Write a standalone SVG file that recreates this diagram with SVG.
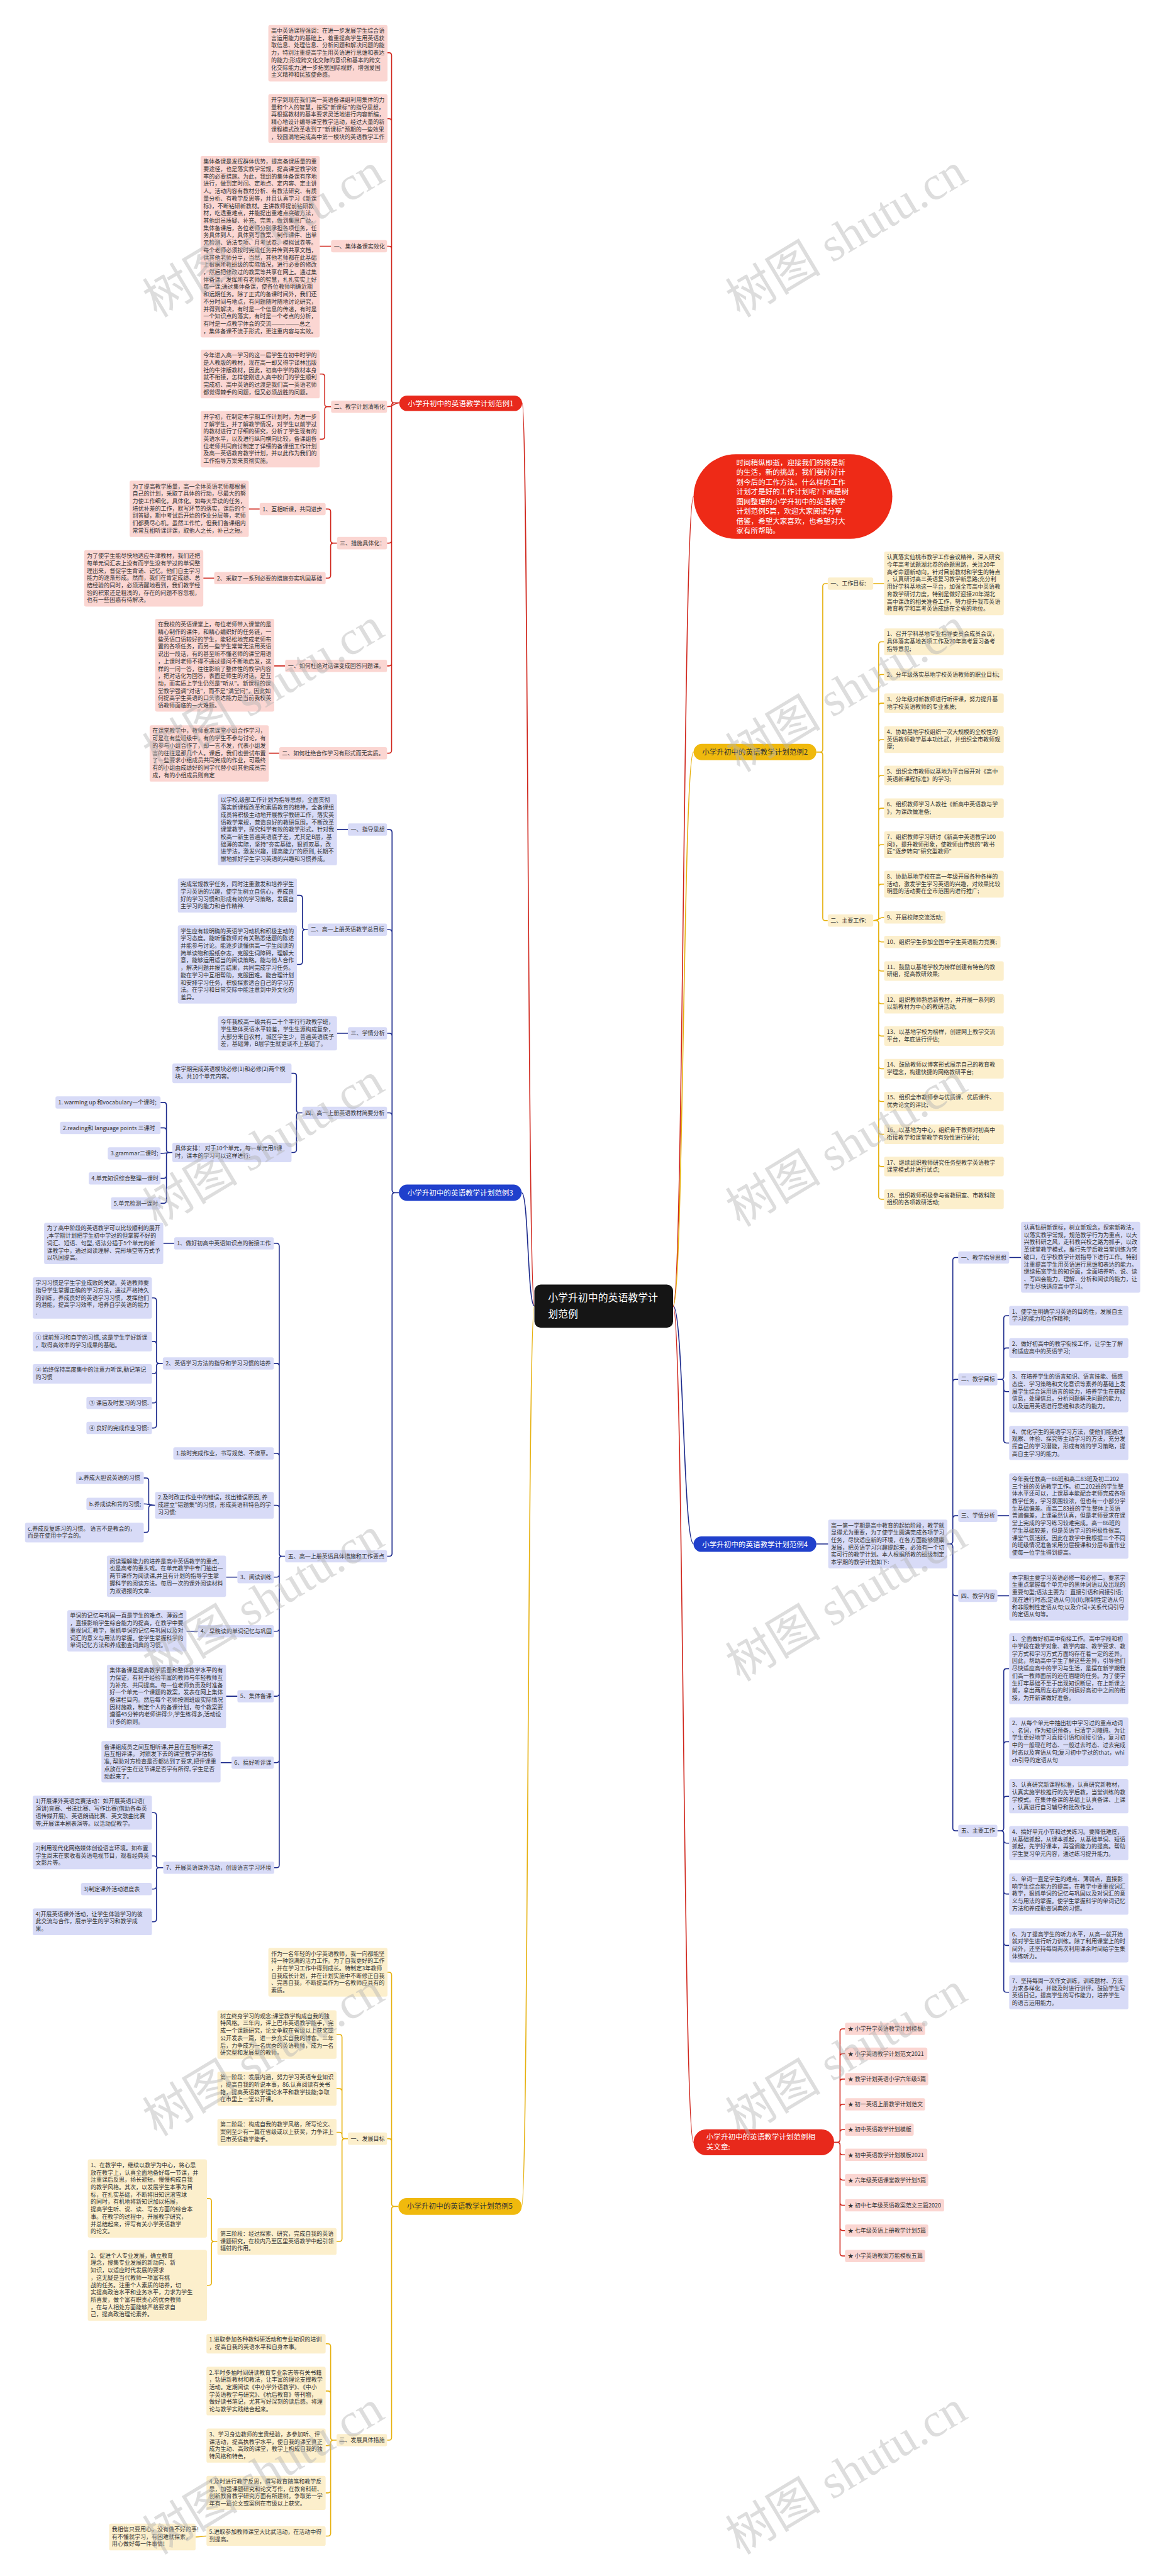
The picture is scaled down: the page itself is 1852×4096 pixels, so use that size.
<svg xmlns="http://www.w3.org/2000/svg" width="1852" height="4096" viewBox="0 0 1852 4096">
<style>
.t{font-family:"Noto Sans CJK SC","Liberation Sans",sans-serif;font-size:12.5px;fill:#333}
.nt{font-family:"Noto Sans CJK SC","Liberation Sans",sans-serif;font-size:16px}
.rb{fill:#fbd6d2}.yb{fill:#fcefcc}.bb{fill:#d8dbf7}
.rl,.yl,.bl{fill:none;stroke-width:2.2}
.rl{stroke:#d0261c}.yl{stroke:#e6b10f}.bl{stroke:#1c2a8c}
.wm{font-family:"Liberation Serif","Noto Sans CJK SC",serif;font-size:105px;fill:#b4b4b4;opacity:.45}
</style>
<rect width="1852" height="4096" fill="#fff"/>
<g transform="scale(0.723)">
<g id="connectors">
<path class="rl" d="M1175,2872C1160,2872 1162,886 1148,886"/>
<path class="bl" d="M1175,2872C1160,2872 1162,2623 1147,2623"/>
<path class="yl" d="M1175,2872C1160,2872 1162,4852.5 1147,4852.5"/>
<path class="rl" d="M1480,2872C1503,2872 1502,1092 1525,1092"/>
<path class="yl" d="M1480,2872C1503,2872 1502,1654 1525,1654"/>
<path class="bl" d="M1480,2872C1503,2872 1502,3395.5 1525,3395.5"/>
<path class="rl" d="M1480,2872C1503,2872 1502,4711.5 1525,4711.5"/>
<path class="rl" d="M878,886H867Q861,886 861,880V122Q861,116 855,116H851M878,886H867Q861,886 861,880V267Q861,261 855,261H851M878,886H867Q861,886 861,880V547.5Q861,541.5 855,541.5H851M878,886C866,886 866,894.5 851,894.5M878,886H867Q861,886 861,892V1188.5Q861,1194.5 855,1194.5H851M878,886H867Q861,886 861,892V1458.5Q861,1464.5 855,1464.5H851M878,886H867Q861,886 861,892V1650.5Q861,1656.5 855,1656.5H851"/>
<path class="rl" d="M728,541.5H703M728,894.5H720Q714,894.5 714,888.5V828.6Q714,822.6 708,822.6H703M728,894.5H720Q714,894.5 714,900.5V960Q714,966 708,966H703M741,1194.5H733Q727,1194.5 727,1188.5V1125.5Q727,1119.5 721,1119.5H716M741,1194.5H733Q727,1194.5 727,1200.5V1265.5Q727,1271.5 721,1271.5H716M571,1119.5H547M471,1271.5H447M627,1464.5H603M614,1656.5H591"/>
<path class="bl" d="M877,2623H868Q862,2623 862,2617V1830.5Q862,1824.5 856,1824.5H851M877,2623H868Q862,2623 862,2617V2050.5Q862,2044.5 856,2044.5H851M877,2623H868Q862,2623 862,2617V2278.5Q862,2272.5 856,2272.5H851M877,2623H868Q862,2623 862,2617V2453.5Q862,2447.5 856,2447.5H851M877,2623H868Q862,2623 862,2629V3416.5Q862,3422.5 856,3422.5H851"/>
<path class="bl" d="M765,1824.5H741M677,2044.5H671Q665,2044.5 665,2038.5V1975Q665,1969 659,1969H653M677,2044.5H671Q665,2044.5 665,2050.5V2115Q665,2121 659,2121H653M765,2272.5H741M665,2447.5H658Q652,2447.5 652,2441.5V2366.5Q652,2360.5 646,2360.5H640M665,2447.5H658Q652,2447.5 652,2453.5V2528.5Q652,2534.5 646,2534.5H640"/>
<path class="bl" d="M379,2534.5H372Q366,2534.5 366,2528.5V2430.5Q366,2424.5 360,2424.5H353M379,2534.5H372Q366,2534.5 366,2528.5V2486.5Q366,2480.5 360,2480.5H353M379,2534.5C366,2534.5 366,2536.5 353,2536.5M379,2534.5H372Q366,2534.5 366,2540.5V2585.5Q366,2591.5 360,2591.5H353M379,2534.5H372Q366,2534.5 366,2540.5V2640.5Q366,2646.5 360,2646.5H353"/>
<path class="bl" d="M627,3422.5H620Q614,3422.5 614,3416.5V2740.5Q614,2734.5 608,2734.5H602M627,3422.5H620Q614,3422.5 614,3416.5V3004.5Q614,2998.5 608,2998.5H602M627,3422.5H620Q614,3422.5 614,3416.5V3202.5Q614,3196.5 608,3196.5H602M627,3422.5H620Q614,3422.5 614,3416.5V3316.5Q614,3310.5 608,3310.5H602M627,3422.5H620Q614,3422.5 614,3428.5V3462.5Q614,3468.5 608,3468.5H602M627,3422.5H620Q614,3422.5 614,3428.5V3581.5Q614,3587.5 608,3587.5H602M627,3422.5H620Q614,3422.5 614,3428.5V3724.5Q614,3730.5 608,3730.5H602M627,3422.5H620Q614,3422.5 614,3428.5V3870.5Q614,3876.5 608,3876.5H602M627,3422.5H620Q614,3422.5 614,3428.5V4101.5Q614,4107.5 608,4107.5H602"/>
<path class="bl" d="M383,2734.5H359M358,2998.5H350Q344,2998.5 344,2992.5V2860.5Q344,2854.5 338,2854.5H334M358,2998.5H350Q344,2998.5 344,2992.5V2956Q344,2950 338,2950H334M358,2998.5H350Q344,2998.5 344,3004.5V3015Q344,3021 338,3021H334M358,2998.5H350Q344,2998.5 344,3004.5V3079.5Q344,3085.5 338,3085.5H334M358,2998.5H350Q344,2998.5 344,3004.5V3134.5Q344,3140.5 338,3140.5H334"/>
<path class="bl" d="M341,3310.5H333Q327,3310.5 327,3304.5V3256.5Q327,3250.5 321,3250.5H316M341,3310.5C328,3310.5 328,3307.5 316,3307.5M341,3310.5H333Q327,3310.5 327,3316.5V3364Q327,3370 321,3370H316M522,3468.5H497M435,3587.5H410M522,3730.5H497M509,3876.5H485"/>
<path class="bl" d="M359,4107.5H350Q344,4107.5 344,4101.5V3992.5Q344,3986.5 338,3986.5H334M359,4107.5H350Q344,4107.5 344,4101.5V4087.5Q344,4081.5 338,4081.5H334M359,4107.5H350Q344,4107.5 344,4113.5V4148.5Q344,4154.5 338,4154.5H334M359,4107.5H350Q344,4107.5 344,4113.5V4220.5Q344,4226.5 338,4226.5H334"/>
<path class="yl" d="M876,4852.5H867Q861,4852.5 861,4846.5V4343.5Q861,4337.5 855,4337.5H851M876,4852.5H867Q861,4852.5 861,4846.5V4709.5Q861,4703.5 855,4703.5H851M876,4852.5H867Q861,4852.5 861,4858.5V5360.5Q861,5366.5 855,5366.5H851"/>
<path class="yl" d="M765,4703.5H758Q752,4703.5 752,4697.5V4480.5Q752,4474.5 746,4474.5H740M765,4703.5H758Q752,4703.5 752,4697.5V4599.5Q752,4593.5 746,4593.5H740M765,4703.5H758Q752,4703.5 752,4697.5V4695.5Q752,4689.5 746,4689.5H740M765,4703.5H758Q752,4703.5 752,4709.5V4923.5Q752,4929.5 746,4929.5H740"/>
<path class="yl" d="M478,4929.5H471Q465,4929.5 465,4923.5V4841Q465,4835 459,4835H455M478,4929.5H471Q465,4929.5 465,4935.5V5020Q465,5026 459,5026H455"/>
<path class="yl" d="M740,5366.5H733Q727,5366.5 727,5360.5V5160.5Q727,5154.5 721,5154.5H716M740,5366.5H733Q727,5366.5 727,5360.5V5264.5Q727,5258.5 721,5258.5H716M740,5366.5H733Q727,5366.5 727,5372.5V5372.5Q727,5378.5 721,5378.5H716M740,5366.5H733Q727,5366.5 727,5372.5V5476.5Q727,5482.5 721,5482.5H716M740,5366.5H733Q727,5366.5 727,5372.5V5571.5Q727,5577.5 721,5577.5H716M454,5577.5C442,5577.5 442,5579.5 430,5579.5"/>
<path class="yl" d="M1795,1654H1803Q1809,1654 1809,1648V1289.5Q1809,1283.5 1815,1283.5H1820M1795,1654H1803Q1809,1654 1809,1660V2018.5Q1809,2024.5 1815,2024.5H1820M1920,1283.5H1944"/>
<path class="yl" d="M1920,2024.5H1926Q1932,2024.5 1932,2018.5V1417.5Q1932,1411.5 1938,1411.5H1944M1932,1489.5Q1932,1483.5 1938,1483.5H1944M1932,1552.5Q1932,1546.5 1938,1546.5H1944M1932,1632.5Q1932,1626.5 1938,1626.5H1944M1932,1711.5Q1932,1705.5 1938,1705.5H1944M1932,1783.5Q1932,1777.5 1938,1777.5H1944M1932,1863.5Q1932,1857.5 1938,1857.5H1944M1932,1950.5Q1932,1944.5 1938,1944.5H1944M1920,2024.5C1932,2024.5 1932,2017.5 1944,2017.5M1920,2024.5H1926Q1932,2024.5 1932,2030.5V2631.5Q1932,2637.5 1938,2637.5H1944M1932,2065.5Q1932,2071.5 1938,2071.5H1944M1932,2129.5Q1932,2135.5 1938,2135.5H1944M1932,2201.5Q1932,2207.5 1938,2207.5H1944M1932,2272.5Q1932,2278.5 1938,2278.5H1944M1932,2344.5Q1932,2350.5 1938,2350.5H1944M1932,2416.5Q1932,2422.5 1938,2422.5H1944M1932,2488.5Q1932,2494.5 1938,2494.5H1944M1932,2559.5Q1932,2565.5 1938,2565.5H1944"/>
<path class="bl" d="M1795,3395.5H1821M2083,3395.5H2089Q2095,3395.5 2095,3389.5V2771.5Q2095,2765.5 2101,2765.5H2107M2095,3039.5Q2095,3033.5 2101,3033.5H2107M2095,3339.5Q2095,3333.5 2101,3333.5H2107M2083,3395.5H2089Q2095,3395.5 2095,3401.5V4020.5Q2095,4026.5 2101,4026.5H2107M2095,3503.5Q2095,3509.5 2101,3509.5H2107"/>
<path class="bl" d="M2219,2765.5H2245M2193,3333.5H2219M2193,3509.5H2219M2193,3033.5H2201Q2207,3033.5 2207,3027.5V2899.5Q2207,2893.5 2213,2893.5H2219M2207,2970.5Q2207,2964.5 2213,2964.5H2219M2193,3033.5H2201Q2207,3033.5 2207,3039.5V3167.5Q2207,3173.5 2213,3173.5H2219M2207,3054.5Q2207,3060.5 2213,3060.5H2219"/>
<path class="bl" d="M2193,4026.5H2201Q2207,4026.5 2207,4020.5V3676Q2207,3670 2213,3670H2219M2207,3836.5Q2207,3830.5 2213,3830.5H2219M2207,3956.5Q2207,3950.5 2213,3950.5H2219M2193,4026.5H2201Q2207,4026.5 2207,4032.5V4375.5Q2207,4381.5 2213,4381.5H2219M2207,4047.5Q2207,4053.5 2213,4053.5H2219M2207,4159.5Q2207,4165.5 2213,4165.5H2219M2207,4272.5Q2207,4278.5 2213,4278.5H2219"/>
<path class="rl" d="M1834,4711.5H1841Q1847,4711.5 1847,4705.5V4468Q1847,4462 1853,4462H1858M1847,4522.5Q1847,4516.5 1853,4516.5H1858M1847,4578.5Q1847,4572.5 1853,4572.5H1858M1847,4634Q1847,4628 1853,4628H1858M1847,4689.5Q1847,4683.5 1853,4683.5H1858M1834,4711.5H1841Q1847,4711.5 1847,4717.5V4955.5Q1847,4961.5 1853,4961.5H1858M1847,4733Q1847,4739 1853,4739H1858M1847,4788.5Q1847,4794.5 1853,4794.5H1858M1847,4844Q1847,4850 1853,4850H1858M1847,4899.5Q1847,4905.5 1853,4905.5H1858"/>
</g>

<g id="center"><rect x="1175" y="2825" width="305" height="95" rx="14" fill="#151515"/><text class="nt" style="font-size:22px" fill="#fff" x="1205" y="2862">小学升初中的英语教学计<tspan x="1205" dy="36">划范例</tspan></text></g>

<g id="intro"><rect x="1525" y="999" width="437" height="186" rx="93" fill="#ee2a17"/><text class="nt" fill="#fff" x="1619" y="1023">时间稍纵即逝，迎接我们的将是新<tspan x="1619" dy="21.5">的生活，新的挑战，我们要好好计</tspan><tspan x="1619" dy="21.5">划今后的工作方法。什么样的工作</tspan><tspan x="1619" dy="21.5">计划才是好的工作计划呢?下面是树</tspan><tspan x="1619" dy="21.5">图网整理的小学升初中的英语教学</tspan><tspan x="1619" dy="21.5">计划范例5篇，欢迎大家阅读分享</tspan><tspan x="1619" dy="21.5">借鉴，希望大家喜欢，也希望对大</tspan><tspan x="1619" dy="21.5">家有所帮助。</tspan></text></g>

<g id="n1"><rect x="878" y="870" width="270" height="34" rx="17" fill="#e8291c"/><text class="nt" fill="#fff" text-anchor="middle" x="1013" y="893">小学升初中的英语教学计划范例1</text></g>
<g id="r1a"><rect class="rb" x="590" y="55" width="262" height="124" rx="4"/><text class="t" x="596" y="72">高中英语课程强调：在进一步发展学生综合语<tspan x="596" dy="16.2">言运用能力的基础上，着重提高学生用英语获</tspan><tspan x="596" dy="16.2">取信息、处理信息、分析问题和解决问题的能</tspan><tspan x="596" dy="16.2">力，特别注重提高学生用英语进行思维和表达</tspan><tspan x="596" dy="16.2">的能力;形成跨文化交际的意识和基本的跨文</tspan><tspan x="596" dy="16.2">化交际能力;进一步拓宽国际视野，增强爱国</tspan><tspan x="596" dy="16.2">主义精神和民族使命感。</tspan></text></g>
<g id="r1b"><rect class="rb" x="590" y="207" width="262" height="107" rx="4"/><text class="t" x="596" y="224">开学到现在我们高一英语备课组利用集体的力<tspan x="596" dy="16.2">量和个人的智慧，按照"新课标"的指导思想，</tspan><tspan x="596" dy="16.2">再根据教材的基本要求灵活地进行内容新编，</tspan><tspan x="596" dy="16.2">精心地设计编导课堂教学活动，经过大量的新</tspan><tspan x="596" dy="16.2">课程模式改革收到了"新课标"预期的一些效果</tspan><tspan x="596" dy="16.2">，较圆满地完成高中第一模块的英语教学工作</tspan></text></g>
<g id="r1c"><rect class="rb" x="728" y="528" width="123" height="27" rx="4"/><text class="t" x="734" y="546">一、集体备课实效化</text></g>
<g id="r1c1"><rect class="rb" x="441" y="343" width="262" height="399" rx="4"/><text class="t" x="447" y="360">集体备课是发挥群体优势，提高备课质量的重<tspan x="447" dy="16.2">要途径，也是落实教学常规，提高课堂教学效</tspan><tspan x="447" dy="16.2">率的必要措施。为此，我组的集体备课有序地</tspan><tspan x="447" dy="16.2">进行，做到定时间、定地点、定内容、定主讲</tspan><tspan x="447" dy="16.2">人。活动内容有教材分析、有教法研究、有质</tspan><tspan x="447" dy="16.2">量分析、有教学反思等，并且认真学习《新课</tspan><tspan x="447" dy="16.2">标》，不断钻研新教材。主讲教师提前钻研教</tspan><tspan x="447" dy="16.2">材，吃透重难点，并能提出重难点突破方法，</tspan><tspan x="447" dy="16.2">其他组员质疑、补充、完善，做到集思广益。</tspan><tspan x="447" dy="16.2">集体备课后，各位老师分别承担各项任务，任</tspan><tspan x="447" dy="16.2">务具体到人，具体到写教案、制作课件、出单</tspan><tspan x="447" dy="16.2">元检测、语法专项、月考试卷、模拟试卷等。</tspan><tspan x="447" dy="16.2">每个老师必须按时完成任务并传到共享文档，</tspan><tspan x="447" dy="16.2">供其他老师分享，当然，其他老师都在此基础</tspan><tspan x="447" dy="16.2">上根据所教班级的实际情况，进行必要的修改</tspan><tspan x="447" dy="16.2">，然后把修改过的教案等共享在网上。通过集</tspan><tspan x="447" dy="16.2">体备课，发挥所有老师的智慧，扎扎实实上好</tspan><tspan x="447" dy="16.2">每一课;通过集体备课，使各位教师明确近期</tspan><tspan x="447" dy="16.2">和远期任务。除了正式的备课时间外，我们还</tspan><tspan x="447" dy="16.2">不分时间与地点，有问题随时随地讨论研究，</tspan><tspan x="447" dy="16.2">并得到解决，有时是一个信息的传递，有时是</tspan><tspan x="447" dy="16.2">一个知识点的落实，有时是一个考点的分析，</tspan><tspan x="447" dy="16.2">有时是一点教学体会的交流——————总之</tspan><tspan x="447" dy="16.2">，集体备课不流于形式，更注重内容与实效。</tspan></text></g>
<g id="r1d"><rect class="rb" x="728" y="881" width="123" height="27" rx="4"/><text class="t" x="734" y="899">二、教学计划清晰化</text></g>
<g id="r1d1"><rect class="rb" x="441" y="769" width="262" height="107" rx="4"/><text class="t" x="447" y="786">今年进入高一学习的这一届学生在初中时学的<tspan x="447" dy="16.2">是人教版的教材，现在高一却又得学译林出版</tspan><tspan x="447" dy="16.2">社的牛津版教材，因此，初高中学的教材本身</tspan><tspan x="447" dy="16.2">就不衔接，怎样使刚进入高中校门的学生顺利</tspan><tspan x="447" dy="16.2">完成初、高中英语的过渡是我们高一英语老师</tspan><tspan x="447" dy="16.2">都觉得棘手的问题，但又必须战胜的问题。</tspan></text></g>
<g id="r1d2"><rect class="rb" x="441" y="904" width="262" height="124" rx="4"/><text class="t" x="447" y="921">开学初，在制定本学期工作计划时，为进一步<tspan x="447" dy="16.2">了解学生，并了解教学情况，对学生以前学过</tspan><tspan x="447" dy="16.2">的教材进行了仔细的研究，分析了学生现有的</tspan><tspan x="447" dy="16.2">英语水平，以及进行纵向横向比较，备课组各</tspan><tspan x="447" dy="16.2">位老师共同商讨制定了详细的备课组工作计划</tspan><tspan x="447" dy="16.2">及高一英语教育教学计划，并以此作为我们的</tspan><tspan x="447" dy="16.2">工作指导方案来贯彻实施。</tspan></text></g>
<g id="r1e"><rect class="rb" x="741" y="1181" width="110" height="27" rx="4"/><text class="t" x="747" y="1199">三、措施具体化：</text></g>
<g id="r1e1"><rect class="rb" x="571" y="1106" width="145" height="27" rx="4"/><text class="t" x="577" y="1124">1、互相听课，共同进步</text></g>
<g id="r1e1a"><rect class="rb" x="285" y="1057" width="262" height="124" rx="4"/><text class="t" x="291" y="1074">为了提高教学质量，高一全体英语老师都根据<tspan x="291" dy="16.2">自己的计划，采取了具体的行动，尽最大的努</tspan><tspan x="291" dy="16.2">力使工作细化，具体化。如每天早读的任务，</tspan><tspan x="291" dy="16.2">培优补差的工作，默写环节的落实，课后的个</tspan><tspan x="291" dy="16.2">别答疑，期中考试后开始的作业分层等，老师</tspan><tspan x="291" dy="16.2">们都费尽心机。虽然工作忙，但我们备课组内</tspan><tspan x="291" dy="16.2">常常互相听课评课，取他人之长，补己之短。</tspan></text></g>
<g id="r1e2"><rect class="rb" x="471" y="1258" width="245" height="27" rx="4"/><text class="t" x="477" y="1276">2、采取了一系列必要的措施夯实巩固基础</text></g>
<g id="r1e2a"><rect class="rb" x="185" y="1210" width="262" height="124" rx="4"/><text class="t" x="191" y="1227">为了使学生能尽快地适应牛津教材，我们还把<tspan x="191" dy="16.2">每单元词汇表上没有而学生没有学过的单词整</tspan><tspan x="191" dy="16.2">理出来，督促学生背诵、记忆。他们自主学习</tspan><tspan x="191" dy="16.2">能力的逐渐形成。然而，我们在肯定成绩、总</tspan><tspan x="191" dy="16.2">结经验的同时，必须清醒地看到，我们教学经</tspan><tspan x="191" dy="16.2">验的积累还是粗浅的，存在的问题不容忽视，</tspan><tspan x="191" dy="16.2">也有一些困惑有待解决。</tspan></text></g>
<g id="r1f"><rect class="rb" x="627" y="1451" width="224" height="27" rx="4"/><text class="t" x="633" y="1469">一、如何杜绝对话课变成回答问题课。</text></g>
<g id="r1f1"><rect class="rb" x="341" y="1361" width="262" height="204" rx="4"/><text class="t" x="347" y="1378">在我校的英语课堂上，每位老师带入课堂的是<tspan x="347" dy="16.2">精心制作的课件，和精心编织好的任务链，一</tspan><tspan x="347" dy="16.2">些英语口语较好的学生，能轻松地完成老师布</tspan><tspan x="347" dy="16.2">置的各项任务，而另一些学生常常无法用英语</tspan><tspan x="347" dy="16.2">说出一段话，有的甚至听不懂老师的课堂用语</tspan><tspan x="347" dy="16.2">，上课时老师不得不通过提问不断地启发，这</tspan><tspan x="347" dy="16.2">样的一问一答，往往影响了整体性的教学内容</tspan><tspan x="347" dy="16.2">，把对话化为回答，表面是师生的对话，是互</tspan><tspan x="347" dy="16.2">动，而实质上学生仍然是"听从"。新课程的课</tspan><tspan x="347" dy="16.2">堂教学强调"对话"，而不是"满堂问"，因此如</tspan><tspan x="347" dy="16.2">何提高学生英语的口头表达能力是当前我校英</tspan><tspan x="347" dy="16.2">语教师面临的一大难题。</tspan></text></g>
<g id="r1g"><rect class="rb" x="614" y="1643" width="237" height="27" rx="4"/><text class="t" x="620" y="1661">二、如何杜绝合作学习有形式而无实质。</text></g>
<g id="r1g1"><rect class="rb" x="329" y="1595" width="262" height="124" rx="4"/><text class="t" x="335" y="1612">在课堂教学中，教师要求课堂小组合作学习，<tspan x="335" dy="16.2">可是在有些班级中，有的学生不参与讨论，有</tspan><tspan x="335" dy="16.2">的参与小组合作了，却一言不发，代表小组发</tspan><tspan x="335" dy="16.2">言的往往是那几个人。课后，我们也尝试布置</tspan><tspan x="335" dy="16.2">了一些要求小组成员共同完成的作业，可最终</tspan><tspan x="335" dy="16.2">有的小组由成绩好的同学代替小组其他成员完</tspan><tspan x="335" dy="16.2">成，有的小组成员则商定</tspan></text></g>

<g id="n3"><rect x="877" y="2605" width="270" height="36" rx="18" fill="#2040cc"/><text class="nt" fill="#fff" text-anchor="middle" x="1012" y="2629">小学升初中的英语教学计划范例3</text></g>
<g id="b3a"><rect class="bb" x="765" y="1811" width="86" height="27" rx="4"/><text class="t" x="771" y="1829">一、指导思想</text></g>
<g id="b3a1"><rect class="bb" x="479" y="1747" width="262" height="156" rx="4"/><text class="t" x="485" y="1764">以学校,级部工作计划为指导思想，全面贯彻<tspan x="485" dy="16.2">落实新课程改革和素质教育的精神，全备课组</tspan><tspan x="485" dy="16.2">成员将积极主动地开展教学教研工作，落实英</tspan><tspan x="485" dy="16.2">语教学常规，营造良好的教研氛围，不断改革</tspan><tspan x="485" dy="16.2">课堂教学，探究科学有效的教学形式。针对我</tspan><tspan x="485" dy="16.2">校高一新生普遍英语底子差，尤其是B层，基</tspan><tspan x="485" dy="16.2">础薄的实际，坚持"夯实基础，狠抓双基，改</tspan><tspan x="485" dy="16.2">进学法，激发兴趣，提高能力"的原则, 长期不</tspan><tspan x="485" dy="16.2">懈地抓好学生学习英语的兴趣和习惯养成。</tspan></text></g>
<g id="b3b"><rect class="bb" x="677" y="2031" width="174" height="27" rx="4"/><text class="t" x="683" y="2049">二、高一上册英语教学总目标</text></g>
<g id="b3b1"><rect class="bb" x="391" y="1932" width="262" height="75" rx="4"/><text class="t" x="397" y="1949">完成常规教学任务，同时注重激发和培养学生<tspan x="397" dy="16.2">学习英语的兴趣，使学生树立自信心，养成良</tspan><tspan x="397" dy="16.2">好的学习习惯和形成有效的学习策略，发展自</tspan><tspan x="397" dy="16.2">主学习的能力和合作精神.</tspan></text></g>
<g id="b3b2"><rect class="bb" x="391" y="2035" width="262" height="172" rx="4"/><text class="t" x="397" y="2052">学生应有较明确的英语学习动机和积极主动的<tspan x="397" dy="16.2">学习态度。能听懂教师对有关熟悉话题的陈述</tspan><tspan x="397" dy="16.2">并能参与讨论。能逐步读懂供高一学生阅读的</tspan><tspan x="397" dy="16.2">简单读物和报纸杂志，克服生词障碍，理解大</tspan><tspan x="397" dy="16.2">意，能够运用适当的阅读策略。能与他人合作</tspan><tspan x="397" dy="16.2">，解决问题并报告结果，共同完成学习任务。</tspan><tspan x="397" dy="16.2">能在学习中互相帮助，克服困难。能合理计划</tspan><tspan x="397" dy="16.2">和安排学习任务，积极探索适合自己的学习方</tspan><tspan x="397" dy="16.2">法。在学习和日常交际中能注意到中外文化的</tspan><tspan x="397" dy="16.2">差异。</tspan></text></g>
<g id="b3c"><rect class="bb" x="765" y="2259" width="86" height="27" rx="4"/><text class="t" x="771" y="2277">三、学情分析</text></g>
<g id="b3c1"><rect class="bb" x="479" y="2235" width="262" height="75" rx="4"/><text class="t" x="485" y="2252">今年我校高一级共有二十个平行行政教学班，<tspan x="485" dy="16.2">学生整体英语水平较差，学生生源构成复杂，</tspan><tspan x="485" dy="16.2">大部分来自农村，城区学生少，普遍英语底子</tspan><tspan x="485" dy="16.2">差，基础薄，B层学生就更谈不上基础了。</tspan></text></g>
<g id="b3d"><rect class="bb" x="665" y="2434" width="186" height="27" rx="4"/><text class="t" x="671" y="2452">四、高一上册英语教材简要分析</text></g>
<g id="b3d1"><rect class="bb" x="379" y="2339" width="262" height="43" rx="4"/><text class="t" x="385" y="2356">本学期完成英语模块必修(1)和必修(2)两个模<tspan x="385" dy="16.2">块。共10个单元内容。</tspan></text></g>
<g id="b3d2"><rect class="bb" x="379" y="2513" width="262" height="43" rx="4"/><text class="t" x="385" y="2530">具体安排：  对于10个单元，每一单元用8课<tspan x="385" dy="16.2">时，课本的学习可以这样进行:</tspan></text></g>
<g id="b3d2a"><rect class="bb" x="122" y="2411" width="231" height="27" rx="4"/><text class="t" x="128" y="2429">1. warming up 和vocabulary一个课时;</text></g>
<g id="b3d2b"><rect class="bb" x="132" y="2467" width="221" height="27" rx="4"/><text class="t" x="138" y="2485">2.reading和 language points 三课时</text></g>
<g id="b3d2c"><rect class="bb" x="237" y="2523" width="116" height="27" rx="4"/><text class="t" x="243" y="2541">3.grammar二课时;</text></g>
<g id="b3d2d"><rect class="bb" x="195" y="2578" width="158" height="27" rx="4"/><text class="t" x="201" y="2596">4.单元知识综合整理一课时</text></g>
<g id="b3d2e"><rect class="bb" x="244" y="2633" width="109" height="27" rx="4"/><text class="t" x="250" y="2651">5.单元检测一课时</text></g>
<g id="b3e"><rect class="bb" x="627" y="3409" width="224" height="27" rx="4"/><text class="t" x="633" y="3427">五、高一上册英语具体措施和工作要点</text></g>
<g id="b3e1"><rect class="bb" x="383" y="2721" width="219" height="27" rx="4"/><text class="t" x="389" y="2739">1、做好初高中英语知识点的衔接工作</text></g>
<g id="b3e1a"><rect class="bb" x="97" y="2689" width="262" height="91" rx="4"/><text class="t" x="103" y="2706">为了高中阶段的英语教学可以比较顺利的展开<tspan x="103" dy="16.2">,本学期计划把学生初中学过的但掌握不好的</tspan><tspan x="103" dy="16.2">词汇、短语、句型, 语法分插于5个单元的新</tspan><tspan x="103" dy="16.2">课教学中，通过阅读理解、完形填空等方式予</tspan><tspan x="103" dy="16.2">以巩固提高。</tspan></text></g>
<g id="b3e2"><rect class="bb" x="358" y="2985" width="244" height="27" rx="4"/><text class="t" x="364" y="3003">2、英语学习方法的指导和学习习惯的培养</text></g>
<g id="b3e2a"><rect class="bb" x="72" y="2809" width="262" height="91" rx="4"/><text class="t" x="78" y="2826">学习习惯是学生学业成败的关键。英语教师要<tspan x="78" dy="16.2">指导学生掌握正确的学习方法，通过严格持久</tspan><tspan x="78" dy="16.2">的训练，养成良好的英语学习习惯，发挥他们</tspan><tspan x="78" dy="16.2">的潜能，提高学习效率，培养自学英语的能力</tspan><tspan x="78" dy="16.2">.</tspan></text></g>
<g id="b3e2b"><rect class="bb" x="72" y="2929" width="262" height="43" rx="4"/><text class="t" x="78" y="2946">① 课前预习和自学的习惯, 这是学生学好新课<tspan x="78" dy="16.2">，取得高效率的学习成果的基础。</tspan></text></g>
<g id="b3e2c"><rect class="bb" x="72" y="3000" width="262" height="43" rx="4"/><text class="t" x="78" y="3017">② 始终保持高度集中的注意力听课,勤记笔记<tspan x="78" dy="16.2">的习惯</tspan></text></g>
<g id="b3e2d"><rect class="bb" x="190" y="3072" width="144" height="27" rx="4"/><text class="t" x="196" y="3090">③ 课后及时复习的习惯.</text></g>
<g id="b3e2e"><rect class="bb" x="190" y="3127" width="144" height="27" rx="4"/><text class="t" x="196" y="3145">④ 良好的完成作业习惯:</text></g>
<g id="b3e3"><rect class="bb" x="381" y="3183" width="221" height="27" rx="4"/><text class="t" x="387" y="3201">1.按时完成作业，书写规范、不潦草。</text></g>
<g id="b3e4"><rect class="bb" x="341" y="3281" width="261" height="59" rx="4"/><text class="t" x="347" y="3298">2.及时改正作业中的错误，找出错误原因, 养<tspan x="347" dy="16.2">成建立"错题集"的习惯，形成英语科特色的学</tspan><tspan x="347" dy="16.2">习习惯:</tspan></text></g>
<g id="b3e4a"><rect class="bb" x="167" y="3237" width="149" height="27" rx="4"/><text class="t" x="173" y="3255">a.养成大胆说英语的习惯</text></g>
<g id="b3e4b"><rect class="bb" x="190" y="3294" width="126" height="27" rx="4"/><text class="t" x="196" y="3312">b.养成读和背的习惯;</text></g>
<g id="b3e4c"><rect class="bb" x="55" y="3349" width="261" height="43" rx="4"/><text class="t" x="61" y="3366">c.养成反复练习的习惯。 语言不是教会的，<tspan x="61" dy="16.2">而是在使用中学会的。</tspan></text></g>
<g id="b3e5"><rect class="bb" x="522" y="3455" width="80" height="27" rx="4"/><text class="t" x="528" y="3473">3、阅读训练</text></g>
<g id="b3e5a"><rect class="bb" x="235" y="3421" width="262" height="91" rx="4"/><text class="t" x="241" y="3438">阅读理解能力的培养是高中英语教学的重点,<tspan x="241" dy="16.2">也是高考的重头戏。在单元教学中专门抽出一</tspan><tspan x="241" dy="16.2">两节课作为阅读课,并且有计划的指导学生掌</tspan><tspan x="241" dy="16.2">握科学的阅读方法。每周一次的课外阅读材料</tspan><tspan x="241" dy="16.2">为双语报的文章.</tspan></text></g>
<g id="b3e6"><rect class="bb" x="435" y="3574" width="167" height="27" rx="4"/><text class="t" x="441" y="3592">4、早晚读的单词记忆与巩固</text></g>
<g id="b3e6a"><rect class="bb" x="148" y="3541" width="262" height="91" rx="4"/><text class="t" x="154" y="3558">单词的记忆与巩固一直是学生的难点、薄弱点<tspan x="154" dy="16.2">，直接影响学生综合能力的提高，在教学中要</tspan><tspan x="154" dy="16.2">重视词汇教学，狠抓单词的记忆与巩固以及对</tspan><tspan x="154" dy="16.2">词汇的意义与用法的掌握。使学生掌握科学的</tspan><tspan x="154" dy="16.2">单词记忆方法和养成勤查词典的习惯。</tspan></text></g>
<g id="b3e7"><rect class="bb" x="522" y="3717" width="80" height="27" rx="4"/><text class="t" x="528" y="3735">5、集体备课</text></g>
<g id="b3e7a"><rect class="bb" x="235" y="3661" width="262" height="140" rx="4"/><text class="t" x="241" y="3678">集体备课是提高教学质量和整体教学水平的有<tspan x="241" dy="16.2">力保证，有利于经验丰富的教师与年轻教师互</tspan><tspan x="241" dy="16.2">为补充、共同提高。每一位老师负责及时准备</tspan><tspan x="241" dy="16.2">好一个单元一个课题的教案，发表在网上集体</tspan><tspan x="241" dy="16.2">备课栏目内。然后每个老师按照班级实际情况</tspan><tspan x="241" dy="16.2">因材施教，制定个人的备课计划，每个教案要</tspan><tspan x="241" dy="16.2">遵循45分钟内老师讲得少,学生练得多,活动设</tspan><tspan x="241" dy="16.2">计多的原则。</tspan></text></g>
<g id="b3e8"><rect class="bb" x="509" y="3863" width="93" height="27" rx="4"/><text class="t" x="515" y="3881">6、搞好听评课</text></g>
<g id="b3e8a"><rect class="bb" x="223" y="3829" width="262" height="91" rx="4"/><text class="t" x="229" y="3846">备课组成员之间互相听课,并且在互相听课之<tspan x="229" dy="16.2">后互相评课。 对照发下去的课堂教学评估标</tspan><tspan x="229" dy="16.2">准, 帮助对方检查是否都达到了要求,把评课重</tspan><tspan x="229" dy="16.2">点放在学生在这节课是否学有所得, 学生是否</tspan><tspan x="229" dy="16.2">动起来了。</tspan></text></g>
<g id="b3e9"><rect class="bb" x="359" y="4094" width="244" height="27" rx="4"/><text class="t" x="365" y="4112">7、开展英语课外活动，创设语言学习环境</text></g>
<g id="b3e9a"><rect class="bb" x="72" y="3949" width="262" height="75" rx="4"/><text class="t" x="78" y="3966">1)开展课外英语竞赛活动：如开展英语口语(<tspan x="78" dy="16.2">演讲)竞赛、书法比赛、写作比赛(借助各类英</tspan><tspan x="78" dy="16.2">语传媒开展)、英语朗诵比赛、英文歌曲比赛</tspan><tspan x="78" dy="16.2">等;开展课本剧表演等。以活动促教学。</tspan></text></g>
<g id="b3e9b"><rect class="bb" x="72" y="4052" width="262" height="59" rx="4"/><text class="t" x="78" y="4069">2)利用现代化网络媒体创设语言环境。如布置<tspan x="78" dy="16.2">学生周末在家收看英语电视节目，观看经典英</tspan><tspan x="78" dy="16.2">文影片等。</tspan></text></g>
<g id="b3e9c"><rect class="bb" x="178" y="4141" width="156" height="27" rx="4"/><text class="t" x="184" y="4159">3)制定课外活动进度表</text></g>
<g id="b3e9d"><rect class="bb" x="72" y="4197" width="262" height="59" rx="4"/><text class="t" x="78" y="4214">4)开展英语课外活动，让学生体验学习的彼<tspan x="78" dy="16.2">此交流与合作，展示学生的学习和教学成</tspan><tspan x="78" dy="16.2">果。</tspan></text></g>

<g id="n5"><rect x="876" y="4834" width="271" height="37" rx="18" fill="#f0b90d"/><text class="nt" fill="#333" text-anchor="middle" x="1011" y="4858">小学升初中的英语教学计划范例5</text></g>
<g id="y5a"><rect class="yb" x="590" y="4284" width="262" height="107" rx="4"/><text class="t" x="596" y="4301">作为一名年轻的小学英语教师，我一向都能坚<tspan x="596" dy="16.2">持一种饱满的活力工作。为了自我更好的工作</tspan><tspan x="596" dy="16.2">，并在学习工作中得到成长。特制定3年教师</tspan><tspan x="596" dy="16.2">自我成长计划，并在计划实施中不断修正自我</tspan><tspan x="596" dy="16.2">、完善自我，不断提高作为一名教师应具有的</tspan><tspan x="596" dy="16.2">素质。</tspan></text></g>
<g id="y5b"><rect class="yb" x="765" y="4690" width="86" height="27" rx="4"/><text class="t" x="771" y="4708">一、发展目标</text></g>
<g id="y5b1"><rect class="yb" x="478" y="4421" width="262" height="107" rx="4"/><text class="t" x="484" y="4438">树立终身学习的观念;课堂教学构成自我的独<tspan x="484" dy="16.2">特风格。三年内，评上巴市英语教学能手，完</tspan><tspan x="484" dy="16.2">成一个课题研究，论文争取在省级以上获奖或</tspan><tspan x="484" dy="16.2">公开发表一篇，进一步充实自我的博客。三年</tspan><tspan x="484" dy="16.2">后，力争成为一名优秀的英语教师，成为一名</tspan><tspan x="484" dy="16.2">研究型和发展型的教师。</tspan></text></g>
<g id="y5b2"><rect class="yb" x="478" y="4556" width="262" height="75" rx="4"/><text class="t" x="484" y="4573">第一阶段：发展内涵，努力学习英语专业知识<tspan x="484" dy="16.2">，提高自我的听说本事，86.认真阅读有关书</tspan><tspan x="484" dy="16.2">籍，提高英语教学理论水平和教学技能;争取</tspan><tspan x="484" dy="16.2">在市里上一堂公开课。</tspan></text></g>
<g id="y5b3"><rect class="yb" x="478" y="4660" width="262" height="59" rx="4"/><text class="t" x="484" y="4677">第二阶段：构成自我的教学风格，所写论文、<tspan x="484" dy="16.2">案例至少有一篇在省级或以上获奖，力争评上</tspan><tspan x="484" dy="16.2">巴市英语教学能手。</tspan></text></g>
<g id="y5b4"><rect class="yb" x="478" y="4900" width="262" height="59" rx="4"/><text class="t" x="484" y="4917">第三阶段：经过探索、研究，完成自我的英语<tspan x="484" dy="16.2">课题研究，在校内乃至区里英语教学中起引领</tspan><tspan x="484" dy="16.2">辐射的作用。</tspan></text></g>
<g id="y5b4a"><rect class="yb" x="193" y="4749" width="262" height="172" rx="4"/><text class="t" x="199" y="4766">1、在教学中，继续以教学为中心，将心思<tspan x="199" dy="16.2">放在教学上，认真全面地备好每一节课，并</tspan><tspan x="199" dy="16.2">注重课后反思，扬长避短。慢慢构成自我</tspan><tspan x="199" dy="16.2">的教学风格。其次，以发展学生本事为目</tspan><tspan x="199" dy="16.2">标，在扎实基础，不断将旧知识滚雪球</tspan><tspan x="199" dy="16.2">的同时，有机地将新知识加以拓展，</tspan><tspan x="199" dy="16.2">提高学生听、说、读、写各方面的综合本</tspan><tspan x="199" dy="16.2">事。在教学的过程中，开展教学研究，</tspan><tspan x="199" dy="16.2">并总结起来，评写有关小学英语教学</tspan><tspan x="199" dy="16.2">的论文。</tspan></text></g>
<g id="y5b4b"><rect class="yb" x="193" y="4948" width="262" height="156" rx="4"/><text class="t" x="199" y="4965">2、促进个人专业发展，确立教育<tspan x="199" dy="16.2">理念，搜集专业发展的新动向、新</tspan><tspan x="199" dy="16.2">知识，以适应时代发展的要求</tspan><tspan x="199" dy="16.2">，这无疑是当代教师一项富有挑</tspan><tspan x="199" dy="16.2">战的任务。注重个人素质的培养，切</tspan><tspan x="199" dy="16.2">实提高政治水平和业务水平，力求为学生</tspan><tspan x="199" dy="16.2">所喜爱，做个富有职责心的优秀教师</tspan><tspan x="199" dy="16.2">，在与人相处方面能够严格要求自</tspan><tspan x="199" dy="16.2">己，提高政治理论素养。</tspan></text></g>
<g id="y5c"><rect class="yb" x="740" y="5353" width="111" height="27" rx="4"/><text class="t" x="746" y="5371">二、发展具体措施</text></g>
<g id="y5c1"><rect class="yb" x="454" y="5133" width="262" height="43" rx="4"/><text class="t" x="460" y="5150">1.进取参加各种教科研活动和专业知识的培训<tspan x="460" dy="16.2">，提高自我的英语水平和自身本事。</tspan></text></g>
<g id="y5c2"><rect class="yb" x="454" y="5205" width="262" height="107" rx="4"/><text class="t" x="460" y="5222">2.平时多抽时间研读教育专业杂志等有关书籍<tspan x="460" dy="16.2">，钻研新教材和教法，让丰富的理论支撑教学</tspan><tspan x="460" dy="16.2">活动。定期阅读《中小学外语教学》、《中小</tspan><tspan x="460" dy="16.2">学英语教学与研究》、《杭后教育》等刊物，</tspan><tspan x="460" dy="16.2">做好读书笔记，尤其写好深刻的读后感。将理</tspan><tspan x="460" dy="16.2">论与教学实践结合起来。</tspan></text></g>
<g id="y5c3"><rect class="yb" x="454" y="5341" width="262" height="75" rx="4"/><text class="t" x="460" y="5358">3、学习身边教师的宝贵经验，多参加听、评<tspan x="460" dy="16.2">课活动，提高执教学水平，使自我的课堂真正</tspan><tspan x="460" dy="16.2">成为生动、高效的课堂，教学上构成自我的独</tspan><tspan x="460" dy="16.2">特风格和特色，</tspan></text></g>
<g id="y5c4"><rect class="yb" x="454" y="5445" width="262" height="75" rx="4"/><text class="t" x="460" y="5462">4.及时进行教学反思，撰写教育随笔和教学反<tspan x="460" dy="16.2">思，加强课题研究和论文写作，在教育科研、</tspan><tspan x="460" dy="16.2">创新教育教学研究方面有所建树。争取第一学</tspan><tspan x="460" dy="16.2">年有一篇论文或案例在市级以上获奖。</tspan></text></g>
<g id="y5c5"><rect class="yb" x="454" y="5556" width="262" height="43" rx="4"/><text class="t" x="460" y="5573">5.进取参加教师课堂大比武活动，在活动中得<tspan x="460" dy="16.2">到提高。</tspan></text></g>
<g id="y5c5a"><rect class="yb" x="240" y="5550" width="190" height="59" rx="4"/><text class="t" x="246" y="5567">我相信只要用心，没有做不好的事!<tspan x="246" dy="16.2">有不懂就学习，有困难就探索，</tspan><tspan x="246" dy="16.2">用心做好每一件事情!</tspan></text></g>

<g id="n2"><rect x="1525" y="1636" width="270" height="36" rx="18" fill="#f0b90d"/><text class="nt" fill="#333" text-anchor="middle" x="1660" y="1660">小学升初中的英语教学计划范例2</text></g>
<g id="y2a"><rect class="yb" x="1820" y="1270" width="100" height="27" rx="4"/><text class="t" x="1826" y="1288">一、工作目标:</text></g>
<g id="y2a1"><rect class="yb" x="1944" y="1213" width="263" height="140" rx="4"/><text class="t" x="1950" y="1230">认真落实仙桃市教学工作会议精神，深入研究<tspan x="1950" dy="16.2">今年高考试题湖北卷的命题思路，关注20年</tspan><tspan x="1950" dy="16.2">高考命题新动向，针对目前教材和学生的特点</tspan><tspan x="1950" dy="16.2">，认真研讨高三英语复习教学新思路;充分利</tspan><tspan x="1950" dy="16.2">用好学科基地这一平台，加强全市高中英语教</tspan><tspan x="1950" dy="16.2">育教学研讨力度，特别是做好迎接20年湖北</tspan><tspan x="1950" dy="16.2">高中课改的相关准备工作，努力提升我市英语</tspan><tspan x="1950" dy="16.2">教育教学和高考英语成绩在全省的地位。</tspan></text></g>
<g id="y2b"><rect class="yb" x="1820" y="2011" width="100" height="27" rx="4"/><text class="t" x="1826" y="2029">二、主要工作:</text></g>
<g id="y2b01"><rect class="yb" x="1944" y="1382" width="263" height="59" rx="4"/><text class="t" x="1950" y="1399">1、召开学科基地专业指导委员会成员会议，<tspan x="1950" dy="16.2">具体落实基地各项工作及20年高考复习备考</tspan><tspan x="1950" dy="16.2">指导意见;</tspan></text></g>
<g id="y2b02"><rect class="yb" x="1944" y="1470" width="261" height="27" rx="4"/><text class="t" x="1950" y="1488">2、分年级落实基地学校英语教师的职业目标;</text></g>
<g id="y2b03"><rect class="yb" x="1944" y="1525" width="263" height="43" rx="4"/><text class="t" x="1950" y="1542">3、分年级对新教师进行听评课，努力提升基<tspan x="1950" dy="16.2">地学校英语教师的专业素质;</tspan></text></g>
<g id="y2b04"><rect class="yb" x="1944" y="1597" width="263" height="59" rx="4"/><text class="t" x="1950" y="1614">4、协助基地学校组织一次大规模的全校性的<tspan x="1950" dy="16.2">英语教师教学基本功比武，并组织全市教师观</tspan><tspan x="1950" dy="16.2">摩;</tspan></text></g>
<g id="y2b05"><rect class="yb" x="1944" y="1684" width="263" height="43" rx="4"/><text class="t" x="1950" y="1701">5、组织全市教师以基地为平台展开对《高中<tspan x="1950" dy="16.2">英语新课程标准》的学习;</tspan></text></g>
<g id="y2b06"><rect class="yb" x="1944" y="1756" width="263" height="43" rx="4"/><text class="t" x="1950" y="1773">6、组织教师学习人教社《新高中英语教与学<tspan x="1950" dy="16.2">》，为课改做准备;</tspan></text></g>
<g id="y2b07"><rect class="yb" x="1944" y="1828" width="263" height="59" rx="4"/><text class="t" x="1950" y="1845">7、组织教师学习研讨《新高中英语教学100<tspan x="1950" dy="16.2">问》，提升教师形象，使教师由传统的"教书</tspan><tspan x="1950" dy="16.2">匠"逐步转向"研究型教师"</tspan></text></g>
<g id="y2b08"><rect class="yb" x="1944" y="1915" width="263" height="59" rx="4"/><text class="t" x="1950" y="1932">8、协助基地学校在高一年级开展各种各样的<tspan x="1950" dy="16.2">活动，激发学生学习英语的兴趣，对效果比较</tspan><tspan x="1950" dy="16.2">明显的活动要在全市范围内进行推广;</tspan></text></g>
<g id="y2b09"><rect class="yb" x="1944" y="2004" width="135" height="27" rx="4"/><text class="t" x="1950" y="2022">9、开展校际交流活动;</text></g>
<g id="y2b10"><rect class="yb" x="1944" y="2058" width="256" height="27" rx="4"/><text class="t" x="1950" y="2076">10、组织学生参加全国中学生英语能力竞赛;</text></g>
<g id="y2b11"><rect class="yb" x="1944" y="2114" width="263" height="43" rx="4"/><text class="t" x="1950" y="2131">11、鼓励以基地学校为榜样创建有特色的教<tspan x="1950" dy="16.2">研组，提高教研效果;</tspan></text></g>
<g id="y2b12"><rect class="yb" x="1944" y="2186" width="263" height="43" rx="4"/><text class="t" x="1950" y="2203">12、组织教师熟悉新教材，并开展一系列的<tspan x="1950" dy="16.2">以新教材为中心的教研活动;</tspan></text></g>
<g id="y2b13"><rect class="yb" x="1944" y="2257" width="263" height="43" rx="4"/><text class="t" x="1950" y="2274">13、以基地学校为榜样，创建网上教学交流<tspan x="1950" dy="16.2">平台，年底进行评估;</tspan></text></g>
<g id="y2b14"><rect class="yb" x="1944" y="2329" width="263" height="43" rx="4"/><text class="t" x="1950" y="2346">14、鼓励教师以博客形式展示自己的教育教<tspan x="1950" dy="16.2">学理念，构建快捷的网络教研平台;</tspan></text></g>
<g id="y2b15"><rect class="yb" x="1944" y="2401" width="263" height="43" rx="4"/><text class="t" x="1950" y="2418">15、组织全市教师参与优质课、优质课件、<tspan x="1950" dy="16.2">优秀论文的评比;</tspan></text></g>
<g id="y2b16"><rect class="yb" x="1944" y="2473" width="263" height="43" rx="4"/><text class="t" x="1950" y="2490">16、以基地为中心，组织骨干教师对初高中<tspan x="1950" dy="16.2">衔接教学和课堂教学有效性进行研讨;</tspan></text></g>
<g id="y2b17"><rect class="yb" x="1944" y="2544" width="263" height="43" rx="4"/><text class="t" x="1950" y="2561">17、继续组织教师研究任务型教学英语教学<tspan x="1950" dy="16.2">课堂模式并进行试点;</tspan></text></g>
<g id="y2b18"><rect class="yb" x="1944" y="2616" width="263" height="43" rx="4"/><text class="t" x="1950" y="2633">18、组织教师积极参与省教研室、市教科院<tspan x="1950" dy="16.2">组织的各项教研活动;</tspan></text></g>

<g id="n4"><rect x="1525" y="3379" width="270" height="34" rx="17" fill="#2040cc"/><text class="nt" fill="#fff" text-anchor="middle" x="1660" y="3402">小学升初中的英语教学计划范例4</text></g>
<g id="b4i"><rect class="bb" x="1821" y="3342" width="262" height="107" rx="4"/><text class="t" x="1827" y="3359">高一第一学期是高中教育的起始阶段，教学就<tspan x="1827" dy="16.2">显得尤为重要，为了使学生圆满完成各项学习</tspan><tspan x="1827" dy="16.2">任务，尽快适应新的环境，在各方面能够健康</tspan><tspan x="1827" dy="16.2">发展，把英语学习兴趣提起来，必须有一个切</tspan><tspan x="1827" dy="16.2">实可行的教学计划。本人根据所教的班级制定</tspan><tspan x="1827" dy="16.2">本学期的教学计划如下:</tspan></text></g>
<g id="b4a"><rect class="bb" x="2107" y="2752" width="112" height="27" rx="4"/><text class="t" x="2113" y="2770">一、教学指导思想</text></g>
<g id="b4a1"><rect class="bb" x="2245" y="2687" width="262" height="156" rx="4"/><text class="t" x="2251" y="2704">认真钻研新课标，树立新观念，探索新教法，<tspan x="2251" dy="16.2">以落实教学常规，规范教学行为为重点，以大</tspan><tspan x="2251" dy="16.2">兴教科研之风，走科教兴校之路为抓手，以改</tspan><tspan x="2251" dy="16.2">革课堂教学模式，推行先学后教当堂训练为突</tspan><tspan x="2251" dy="16.2">破口，在学校教学计划指导下进行工作。特别</tspan><tspan x="2251" dy="16.2">注重提高学生用英语进行思维和表达的能力。</tspan><tspan x="2251" dy="16.2">继续拓宽学生的知识面，全面培养听、说、读</tspan><tspan x="2251" dy="16.2">、写四会能力，理解、分析和阅读的能力，让</tspan><tspan x="2251" dy="16.2">学生尽快适应高中学习。</tspan></text></g>
<g id="b4b"><rect class="bb" x="2107" y="3020" width="86" height="27" rx="4"/><text class="t" x="2113" y="3038">二、教学目标</text></g>
<g id="b4b1"><rect class="bb" x="2219" y="2872" width="262" height="43" rx="4"/><text class="t" x="2225" y="2889">1、使学生明确学习英语的目的性，发展自主<tspan x="2225" dy="16.2">学习的能力和合作精神;</tspan></text></g>
<g id="b4b2"><rect class="bb" x="2219" y="2943" width="262" height="43" rx="4"/><text class="t" x="2225" y="2960">2、做好初高中的教学衔接工作，让学生了解<tspan x="2225" dy="16.2">和适应高中的英语学习;</tspan></text></g>
<g id="b4b3"><rect class="bb" x="2219" y="3015" width="262" height="91" rx="4"/><text class="t" x="2225" y="3032">3、在培养学生的语言知识、语言技能、情感<tspan x="2225" dy="16.2">态度、学习策略和文化意识等素养的基础上发</tspan><tspan x="2225" dy="16.2">展学生综合运用语言的能力，培养学生在获取</tspan><tspan x="2225" dy="16.2">信息，处理信息，分析问题解决问题的能力,</tspan><tspan x="2225" dy="16.2">以及运用英语进行思维和表达的能力。</tspan></text></g>
<g id="b4b4"><rect class="bb" x="2219" y="3136" width="262" height="75" rx="4"/><text class="t" x="2225" y="3153">4、优化学生的英语学习方法，使他们能通过<tspan x="2225" dy="16.2">观察、体验、探究等主动学习的方法，充分发</tspan><tspan x="2225" dy="16.2">挥自己的学习潜能，形成有效的学习策略，提</tspan><tspan x="2225" dy="16.2">高自主学习的能力。</tspan></text></g>
<g id="b4c"><rect class="bb" x="2107" y="3320" width="86" height="27" rx="4"/><text class="t" x="2113" y="3338">三、学情分析</text></g>
<g id="b4c1"><rect class="bb" x="2219" y="3240" width="262" height="188" rx="4"/><text class="t" x="2225" y="3257">今年我任教高一86班和高二83班及初二202<tspan x="2225" dy="16.2">三个班的英语教学工作。初二202班的学生整</tspan><tspan x="2225" dy="16.2">体水平还可以，上课基本能配合老师完成各项</tspan><tspan x="2225" dy="16.2">教学任务，学习氛围较浓，但也有一小部分学</tspan><tspan x="2225" dy="16.2">生基础偏差。而高二83班的学生整体上英语</tspan><tspan x="2225" dy="16.2">普遍偏差，上课虽然认真，但是老师要求在课</tspan><tspan x="2225" dy="16.2">堂上完成的学习练习较难完成。高一86班的</tspan><tspan x="2225" dy="16.2">学生基础较差，但是英语学习的积极性很高,</tspan><tspan x="2225" dy="16.2">课堂气氛活跃。因此在教学中我根据三个不同</tspan><tspan x="2225" dy="16.2">的班级情况准备采用分层授课和分层布置作业</tspan><tspan x="2225" dy="16.2">使每一位学生得到提高。</tspan></text></g>
<g id="b4d"><rect class="bb" x="2107" y="3496" width="86" height="27" rx="4"/><text class="t" x="2113" y="3514">四、教学内容</text></g>
<g id="b4d1"><rect class="bb" x="2219" y="3457" width="262" height="107" rx="4"/><text class="t" x="2225" y="3474">本学期主要学习英语必修一和必修二。要求学<tspan x="2225" dy="16.2">生重点掌握每个单元中的黑体词语以及出现的</tspan><tspan x="2225" dy="16.2">重要句型;语法主要为：直接引语和间接引语;</tspan><tspan x="2225" dy="16.2">现在进行时态;定语从句(I)(II);限制性定语从句</tspan><tspan x="2225" dy="16.2">和非限制性定语从句;以及介词+关系代词引导</tspan><tspan x="2225" dy="16.2">的定语从句等。</tspan></text></g>
<g id="b4e"><rect class="bb" x="2107" y="4013" width="86" height="27" rx="4"/><text class="t" x="2113" y="4031">五、主要工作</text></g>
<g id="b4e1"><rect class="bb" x="2219" y="3592" width="262" height="156" rx="4"/><text class="t" x="2225" y="3609">1、全面做好初高中衔接工作。高中学段和初<tspan x="2225" dy="16.2">中学段在教学对象、教学内容、教学要求、教</tspan><tspan x="2225" dy="16.2">学方式和学习方式方面均存在着一定的差异。</tspan><tspan x="2225" dy="16.2">因此，帮助高中学生了解这些差异，引导他们</tspan><tspan x="2225" dy="16.2">尽快适应高中的学习与生活，是摆在新学期我</tspan><tspan x="2225" dy="16.2">们高一教师面前的迫在眉睫的任务。为了使学</tspan><tspan x="2225" dy="16.2">生打牢基础不至于出现知识断层，在上新课之</tspan><tspan x="2225" dy="16.2">前，拿出两周左右的时间搞好高初中之间的衔</tspan><tspan x="2225" dy="16.2">接，为开新课做好准备。</tspan></text></g>
<g id="b4e2"><rect class="bb" x="2219" y="3777" width="262" height="107" rx="4"/><text class="t" x="2225" y="3794">2、从每个单元中抽出初中学习过的重点动词<tspan x="2225" dy="16.2">、名词，作为知识预备，扫清学习障碍。为让</tspan><tspan x="2225" dy="16.2">学生更好地学习直接引语和间接引语，复习初</tspan><tspan x="2225" dy="16.2">中的一般现在时态、一般过去时态、过去完成</tspan><tspan x="2225" dy="16.2">时态以及宾语从句;复习初中学过的that，whi</tspan><tspan x="2225" dy="16.2">ch引导的定语从句</tspan></text></g>
<g id="b4e3"><rect class="bb" x="2219" y="3913" width="262" height="75" rx="4"/><text class="t" x="2225" y="3930">3、认真研究新课程标准，认真研究新教材，<tspan x="2225" dy="16.2">认真实施学校推行的先学后教，当堂训练的教</tspan><tspan x="2225" dy="16.2">学模式。在集体备课的基础上认真备课、上课</tspan><tspan x="2225" dy="16.2">，认真进行自习辅导和批改作业。</tspan></text></g>
<g id="b4e4"><rect class="bb" x="2219" y="4016" width="262" height="75" rx="4"/><text class="t" x="2225" y="4033">4、搞好单元小节和过关练习。要降低难度，<tspan x="2225" dy="16.2">从基础抓起，从课本抓起，从基础单词、短语</tspan><tspan x="2225" dy="16.2">抓起，先学好课本，再强调能力的提高。帮助</tspan><tspan x="2225" dy="16.2">学生复习单元内容，通过练习提升能力。</tspan></text></g>
<g id="b4e5"><rect class="bb" x="2219" y="4120" width="262" height="91" rx="4"/><text class="t" x="2225" y="4137">5、单词一直是学生的难点、薄弱点，直接影<tspan x="2225" dy="16.2">响学生综合能力的提高，在教学中要重视词汇</tspan><tspan x="2225" dy="16.2">教学，狠抓单词的记忆与巩固以及对词汇的意</tspan><tspan x="2225" dy="16.2">义与用法的掌握。使学生掌握科学的单词记忆</tspan><tspan x="2225" dy="16.2">方法和养成勤查词典的习惯。</tspan></text></g>
<g id="b4e6"><rect class="bb" x="2219" y="4241" width="262" height="75" rx="4"/><text class="t" x="2225" y="4258">6、为了提高学生的听力水平，从高一就开始<tspan x="2225" dy="16.2">就对学生进行听力训练。除了利用课堂上的时</tspan><tspan x="2225" dy="16.2">间外，还坚持每周两次利用课余时间给学生集</tspan><tspan x="2225" dy="16.2">体练听力。</tspan></text></g>
<g id="b4e7"><rect class="bb" x="2219" y="4344" width="262" height="75" rx="4"/><text class="t" x="2225" y="4361">7、坚持每周一次作文训练，训练题材、方法<tspan x="2225" dy="16.2">力求多样化，并能及时进行讲评。鼓励学生写</tspan><tspan x="2225" dy="16.2">英语日记，提高学生的写作能力，培养学生</tspan><tspan x="2225" dy="16.2">的语言运用能力。</tspan></text></g>

<g id="n6"><rect x="1525" y="4683" width="309" height="57" rx="28" fill="#e8291c"/><text class="nt" fill="#fff" x="1553" y="4706">小学升初中的英语教学计划范例相<tspan x="1553" dy="21">关文章:</tspan></text></g>
<g id="l1"><rect class="rb" x="1858" y="4448.5" width="176" height="27" rx="4"/><text class="t" x="1864" y="4466.5">★ 小学升学英语教学计划模板</text></g>
<g id="l2"><rect class="rb" x="1858" y="4503" width="181" height="27" rx="4"/><text class="t" x="1864" y="4521">★ 小学英语教学计划范文2021</text></g>
<g id="l3"><rect class="rb" x="1858" y="4559" width="183" height="27" rx="4"/><text class="t" x="1864" y="4577">★ 教学计划英语小学六年级5篇</text></g>
<g id="l4"><rect class="rb" x="1858" y="4614.5" width="176" height="27" rx="4"/><text class="t" x="1864" y="4632.5">★ 初一英语上册教学计划范文</text></g>
<g id="l5"><rect class="rb" x="1858" y="4670" width="151" height="27" rx="4"/><text class="t" x="1864" y="4688">★ 初中英语教学计划模版</text></g>
<g id="l6"><rect class="rb" x="1858" y="4725.5" width="181" height="27" rx="4"/><text class="t" x="1864" y="4743.5">★ 初中英语教学计划模板2021</text></g>
<g id="l7"><rect class="rb" x="1858" y="4781" width="183" height="27" rx="4"/><text class="t" x="1864" y="4799">★ 六年级英语课堂教学计划5篇</text></g>
<g id="l8"><rect class="rb" x="1858" y="4836.5" width="218" height="27" rx="4"/><text class="t" x="1864" y="4854.5">★ 初中七年级英语教案范文三篇2020</text></g>
<g id="l9"><rect class="rb" x="1858" y="4892" width="183" height="27" rx="4"/><text class="t" x="1864" y="4910">★ 七年级英语上册教学计划5篇</text></g>
<g id="l10"><rect class="rb" x="1858" y="4948" width="176" height="27" rx="4"/><text class="t" x="1864" y="4966">★ 小学英语教案万能模板五篇</text></g>

<g id="watermarks">
<text class="wm" x="345" y="700" transform="rotate(-31 345 700)">树图 shutu.cn</text>
<text class="wm" x="1627" y="700" transform="rotate(-31 1627 700)">树图 shutu.cn</text>
<text class="wm" x="345" y="1700" transform="rotate(-31 345 1700)">树图 shutu.cn</text>
<text class="wm" x="1627" y="1700" transform="rotate(-31 1627 1700)">树图 shutu.cn</text>
<text class="wm" x="345" y="2700" transform="rotate(-31 345 2700)">树图 shutu.cn</text>
<text class="wm" x="1627" y="2700" transform="rotate(-31 1627 2700)">树图 shutu.cn</text>
<text class="wm" x="345" y="3700" transform="rotate(-31 345 3700)">树图 shutu.cn</text>
<text class="wm" x="1627" y="3700" transform="rotate(-31 1627 3700)">树图 shutu.cn</text>
<text class="wm" x="345" y="4700" transform="rotate(-31 345 4700)">树图 shutu.cn</text>
<text class="wm" x="1627" y="4700" transform="rotate(-31 1627 4700)">树图 shutu.cn</text>
<text class="wm" x="345" y="5620" transform="rotate(-31 345 5620)">树图 shutu.cn</text>
<text class="wm" x="1627" y="5620" transform="rotate(-31 1627 5620)">树图 shutu.cn</text>
</g>
</g>
</svg>
